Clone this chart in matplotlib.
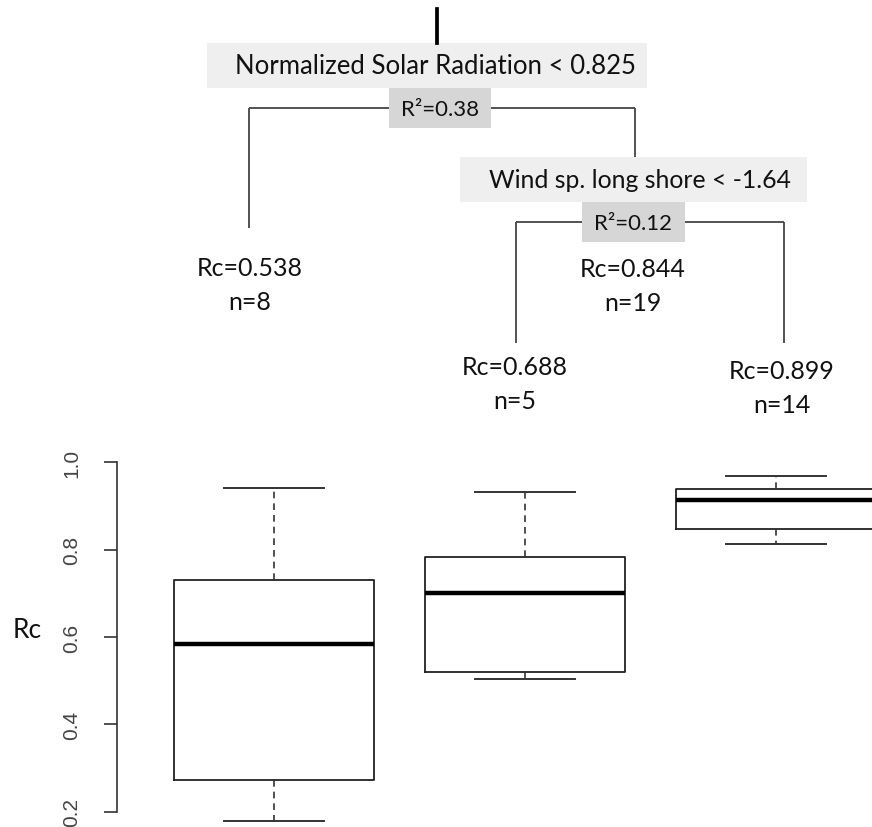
import matplotlib
matplotlib.use("Agg")
import matplotlib.pyplot as plt
from matplotlib.patches import Rectangle

# 树的文字
split_labels = ["Normalized Solar Radiation < 0.825", "Wind sp. long shore < -1.64"]
split_r2 = ["R²=0.38", "R²=0.12"]
leaf_rc = ["Rc=0.538", "Rc=0.844", "Rc=0.688", "Rc=0.899"]
leaf_n = ["n=8", "n=19", "n=5", "n=14"]

# 箱线图数据 (三个终端节点)
box_pos = [1, 2, 3]
whislo = [0.179, 0.503, 0.812]
q1 = [0.273, 0.519, 0.848]
med = [0.584, 0.701, 0.914]
q3 = [0.731, 0.783, 0.939]
whishi = [0.942, 0.932, 0.969]
y_ticks = [0.2, 0.4, 0.6, 0.8, 1.0]

W, H = 872, 828
fig = plt.figure(figsize=(W / 100, H / 100), dpi=100)
plt.rcParams['font.family'] = ['Lato', 'DejaVu Sans']

# ---- 树 (像素坐标的版面) ----
tr = fig.add_axes([0, 0, 1, 1])
tr.set_xlim(0, W)
tr.set_ylim(H, 0)
tr.axis("off")

txt_kw = dict(ha="center", va="center", fontsize=18, color="#111111")
line_kw = dict(color="#444444", lw=1.3, solid_capstyle="butt")

# 版面: 每个分裂节点 (中心x, 文字x, 灰框上沿y, 灰框宽, R²框x, 左子x, 右子x, 左竖线底, 右竖线底)
splits = [
    dict(cx=427, tx=435, top=44, w=440, r2x=440, r2w=102, lx=249, rx=635, lbot=229, rbot=158, fs=18.5),
    dict(cx=633, tx=640, top=158, w=347, r2x=633, r2w=103, lx=516, rx=784, lbot=344, rbot=344, fs=17.8),
]
box_h, r2_h = 45, 40

tr.plot([437, 437], [10, 44], color="black", lw=2.7)
for i, s in enumerate(splits):
    y_r2 = s["top"] + box_h
    y_line = y_r2 + 20
    tr.add_patch(Rectangle((s["cx"] - s["w"] / 2, s["top"]), s["w"], box_h,
                           facecolor="#efefef", edgecolor="none", zorder=1))
    tr.text(s["tx"], s["top"] + 23, split_labels[i], zorder=3,
            **dict(txt_kw, fontsize=s["fs"]))
    tr.add_patch(Rectangle((s["r2x"] - s["r2w"] / 2, y_r2), s["r2w"], r2_h,
                           facecolor="#d6d6d6", edgecolor="none", zorder=2))
    tr.text(s["r2x"], y_r2 + 21, split_r2[i], zorder=3, **dict(txt_kw, fontsize=16))
    tr.plot([s["lx"], s["rx"]], [y_line, y_line], zorder=1, **line_kw)
    tr.plot([s["lx"], s["lx"]], [y_line, s["lbot"]], zorder=1, **line_kw)
    tr.plot([s["rx"], s["rx"]], [y_line, s["rbot"]], zorder=1, **line_kw)

leaf_xy = [(250, 269), (633, 270), (515, 368), (782, 372)]
for (x, y), rc, n in zip(leaf_xy, leaf_rc, leaf_n):
    tr.text(x, y, rc, **txt_kw)
    tr.text(x, y + 34, n, **txt_kw)

# ---- 箱线图 ----
ax_left, ax_top = 117, 440
ax = fig.add_axes([ax_left / W, 0, (W - ax_left) / W, (H - ax_top) / H])
ax.patch.set_alpha(0)
px_per_unit_x, px_per_unit_y = 251, 436.75
ax.set_xlim(1 - (274 - ax_left) / px_per_unit_x, 1 + (W - 274) / px_per_unit_x)
ax.set_ylim(0.2 - (H - 812.7) / px_per_unit_y, 0.2 + (812.7 - ax_top) / px_per_unit_y)

stats = [dict(whislo=a, q1=b, med=c, q3=d, whishi=e, fliers=[])
         for a, b, c, d, e in zip(whislo, q1, med, q3, whishi)]
ax.bxp(stats, positions=box_pos, widths=0.8, showfliers=False,
       boxprops=dict(color="#222222", lw=1.3),
       medianprops=dict(color="black", lw=3.2),
       whiskerprops=dict(color="#333333", lw=1.2, linestyle=(0, (4, 3))),
       capprops=dict(color="#333333", lw=1.4),
       capwidths=0.4)

for side in ["top", "right", "bottom"]:
    ax.spines[side].set_visible(False)
ax.spines["left"].set_bounds(0.2, 1.0)
ax.spines["left"].set_color("#333333")
ax.spines["left"].set_linewidth(1.2)
ax.set_xticks([])
ax.set_yticks(y_ticks)
ax.set_yticklabels([f"{t:.1f}" for t in y_ticks], rotation=90, va="center",
                   family=["Liberation Sans", "DejaVu Sans"], fontsize=15, color="#444444")
ax.tick_params(axis="y", length=9.5, width=1.2, color="#333333", pad=16)

fig.text(27 / W, 1 - 631 / H, "Rc", ha="center", va="center", fontsize=19, color="#111111")

fig.savefig("out.png", dpi=100)
